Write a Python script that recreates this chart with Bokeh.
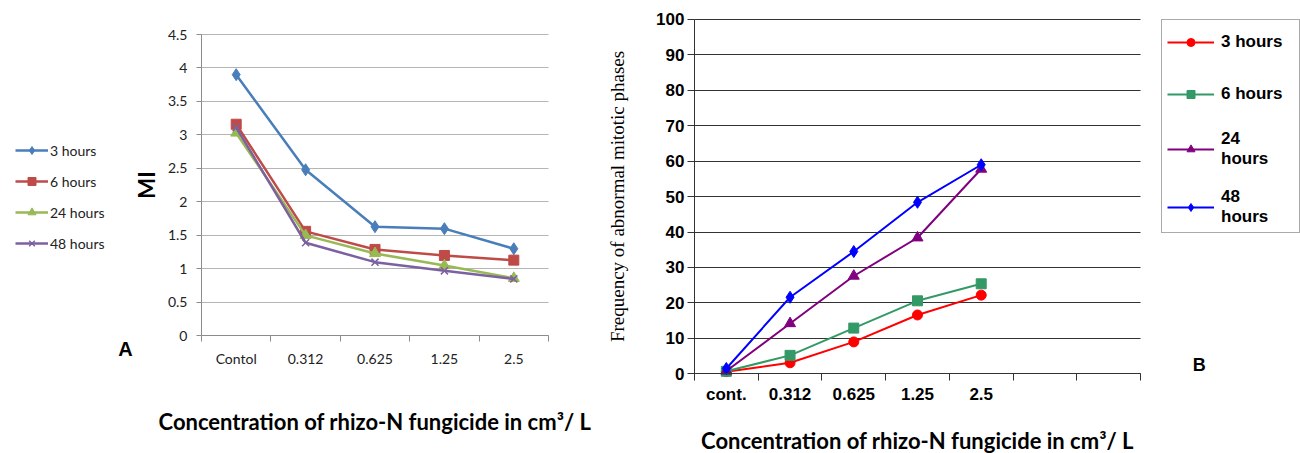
from bokeh.plotting import figure
from bokeh.layouts import row
from bokeh.models import Legend, LegendItem, FixedTicker, Label, Range1d
from bokeh.embed import file_html
from bokeh.resources import INLINE

# ---------------- Chart A data ----------------
a_categories = ["Contol", "0.312", "0.625", "1.25", "2.5"]
a_series = ["3 hours", "6 hours", "24 hours", "48 hours"]
a_3h = [3.90, 2.48, 1.63, 1.60, 1.30]
a_6h = [3.16, 1.56, 1.29, 1.20, 1.13]
a_24h = [3.03, 1.50, 1.23, 1.05, 0.86]
a_48h = [3.11, 1.39, 1.10, 0.97, 0.85]
a_yticks = [0, 0.5, 1, 1.5, 2, 2.5, 3, 3.5, 4, 4.5]

# ---------------- Chart B data ----------------
b_categories = ["cont.", "0.312", "0.625", "1.25", "2.5", "", ""]
b_series = ["3 hours", "6 hours", "24\nhours", "48\nhours"]
b_3h = [0.6, 3.1, 9.0, 16.6, 22.2]
b_6h = [0.7, 5.2, 12.9, 20.6, 25.4]
b_24h = [0.8, 14.2, 27.6, 38.4, 57.8]
b_48h = [1.5, 21.6, 34.5, 48.4, 59.0]
b_yticks = [0, 10, 20, 30, 40, 50, 60, 70, 80, 90, 100]

CAL = "Lato"
ARIAL = "Liberation Sans"
TIMES = "Liberation Serif"
XTITLE = "Concentration of rhizo-N fungicide in cm\u00b3/ L"

# ================= Chart A =================
# whole canvas is the frame; axes are pinned at data 0 so that the
# surrounding texts and the legend can live inside the frame
nA = len(a_categories)
pa = figure(width=600, height=453, output_backend="svg", toolbar_location=None,
            x_range=Range1d(-2.896, nA + 0.749), y_range=Range1d(-1.758, 5.008),
            min_border_left=0, min_border_right=0, min_border_top=0,
            min_border_bottom=0)
pa.outline_line_color = None
pa.background_fill_color = "white"
pa.border_fill_color = "white"
xa = [i + 0.5 for i in range(nA)]

a_styles = [
    (a_3h, "#4A7EBB", "diamond", 12),
    (a_6h, "#BE4B48", "square", 10),
    (a_24h, "#98B954", "triangle", 11),
    (a_48h, "#7D60A0", "x", 10),
]
a_items = []
for (vals, col, mk, sz), name in zip(a_styles, a_series):
    ln = pa.line(xa, vals, line_color=col, line_width=2.5)
    sc = pa.scatter(xa, vals, marker=mk, size=sz, fill_color=col,
                    line_color=col, line_width=1.5 if mk == "x" else 1)
    a_items.append(LegendItem(label=name, renderers=[ln, sc]))

xax = pa.xaxis[0]
xax.fixed_location = 0
xax.bounds = (0, nA)
xax.ticker = FixedTicker(ticks=xa, minor_ticks=list(range(nA + 1)))
xax.major_label_overrides = {x: c for x, c in zip(xa, a_categories)}
xax.major_tick_line_color = None
xax.major_tick_out = 0
xax.minor_tick_line_color = "#8c8c8c"
xax.minor_tick_out = 6
xax.minor_tick_in = 0
xax.axis_line_color = "#8c8c8c"
xax.major_label_standoff = 8
xax.major_label_text_font = CAL
xax.major_label_text_font_size = "14px"
xax.major_label_text_color = "#222222"
xax.axis_label = XTITLE
xax.axis_label_text_font = CAL
xax.axis_label_text_font_style = "bold"
xax.axis_label_text_font_size = "22px"
xax.axis_label_text_color = "black"
xax.axis_label_standoff = 38

yax = pa.yaxis[0]
yax.fixed_location = 0
yax.bounds = (0, 4.5)
yax.ticker = FixedTicker(ticks=a_yticks)
yax.major_label_overrides = {t: f"{t:g}" for t in a_yticks}
yax.major_tick_out = 5
yax.major_tick_in = 0
yax.minor_tick_line_color = None
yax.major_tick_line_color = "#8c8c8c"
yax.axis_line_color = "#8c8c8c"
yax.major_label_standoff = 9
yax.major_label_text_font = CAL
yax.major_label_text_font_size = "14px"
yax.major_label_text_color = "#222222"
yax.axis_label = "MI"
yax.axis_label_text_font = CAL
yax.axis_label_text_font_style = "bold"
yax.axis_label_text_font_size = "22px"
yax.axis_label_text_color = "black"
yax.axis_label_standoff = 5

pa.xgrid.visible = False
pa.ygrid.grid_line_color = "#b5b5b5"
pa.ygrid.grid_line_width = 1
pa.ygrid.cross_bounds = (0, nA)

leg_a = Legend(items=a_items, location=(15, 200), orientation="vertical",
               border_line_color=None, background_fill_alpha=0, padding=0,
               margin=0, glyph_width=33, glyph_height=20, label_height=20,
               spacing=11, label_standoff=2, label_text_font=CAL,
               label_text_font_size="14px", label_text_color="#222222")
pa.add_layout(leg_a, "center")

pa.add_layout(Label(x=-1.095, y=-0.19, text="A", text_font=ARIAL, text_font_style="bold",
                    text_font_size="20px", text_align="center", text_baseline="middle",
                    text_color="black"))

# ================= Chart B =================
nB = len(b_categories)
pb = figure(width=700, height=453, output_backend="svg", toolbar_location=None,
            x_range=Range1d(-1.475, nB + 2.511), y_range=Range1d(-22.5, 105.36),
            min_border_left=0, min_border_right=0, min_border_top=0,
            min_border_bottom=0)
pb.outline_line_color = None
pb.background_fill_color = "white"
pb.border_fill_color = "white"
xb_all = [i + 0.5 for i in range(nB)]
xb = xb_all[:len(b_3h)]

b_styles = [
    (b_3h, "#FF0000", "circle", 10),
    (b_6h, "#339966", "square", 10),
    (b_24h, "#800080", "triangle", 11),
    (b_48h, "#0000FF", "diamond", 12),
]
b_items = []
for (vals, col, mk, sz), name in zip(b_styles, b_series):
    ln = pb.line(xb, vals, line_color=col, line_width=2)
    sc = pb.scatter(xb, vals, marker=mk, size=sz, fill_color=col, line_color=col)
    b_items.append(LegendItem(label=name, renderers=[ln, sc]))

xbx = pb.xaxis[0]
xbx.fixed_location = 0
xbx.bounds = (0, nB)
xbx.ticker = FixedTicker(ticks=xb_all, minor_ticks=list(range(nB + 1)))
xbx.major_label_overrides = {x: c for x, c in zip(xb_all, b_categories)}
xbx.major_tick_line_color = None
xbx.major_tick_out = 0
xbx.minor_tick_line_color = "#333333"
xbx.minor_tick_out = 7
xbx.minor_tick_in = 0
xbx.axis_line_color = "#333333"
xbx.major_label_standoff = 4
xbx.major_label_text_font = ARIAL
xbx.major_label_text_font_style = "bold"
xbx.major_label_text_font_size = "17px"
xbx.major_label_text_color = "black"
xbx.axis_label = XTITLE
xbx.axis_label_text_font = CAL
xbx.axis_label_text_font_style = "bold"
xbx.axis_label_text_font_size = "22px"
xbx.axis_label_text_color = "black"
xbx.axis_label_standoff = 20

ybx = pb.yaxis[0]
ybx.fixed_location = 0
ybx.bounds = (0, 100)
ybx.ticker = FixedTicker(ticks=b_yticks)
ybx.major_tick_out = 7
ybx.major_tick_in = 0
ybx.minor_tick_line_color = None
ybx.major_tick_line_color = "#333333"
ybx.axis_line_color = "#333333"
ybx.major_label_standoff = 3
ybx.major_label_text_font = ARIAL
ybx.major_label_text_font_style = "bold"
ybx.major_label_text_font_size = "17px"
ybx.major_label_text_color = "black"
ybx.axis_label = "Frequency of abnormal mitotic phases"
ybx.axis_label_text_font = TIMES
ybx.axis_label_text_font_style = "normal"
ybx.axis_label_text_font_size = "19px"
ybx.axis_label_text_color = "black"
ybx.axis_label_standoff = 25

pb.xgrid.visible = False
pb.ygrid.grid_line_color = "#333333"
pb.ygrid.grid_line_width = 1
pb.ygrid.cross_bounds = (0, nB)

leg_b = Legend(items=b_items, location=(561, 220), orientation="vertical",
               border_line_color="#555555", border_line_width=1,
               background_fill_color="white", background_fill_alpha=1,
               padding=5, margin=0, glyph_width=47, glyph_height=20,
               label_height=34, label_width=73, spacing=18, label_standoff=7,
               label_text_font=ARIAL, label_text_font_style="bold",
               label_text_font_size="17px", label_text_color="black")
pb.add_layout(leg_b, "center")

pb.add_layout(Label(x=7.92, y=2.34, text="B", text_font=ARIAL, text_font_style="bold",
                    text_font_size="18px", text_align="center", text_baseline="middle",
                    text_color="black"))

layout = row(pa, pb)
open("out.html", "w").write(file_html(layout, INLINE))
